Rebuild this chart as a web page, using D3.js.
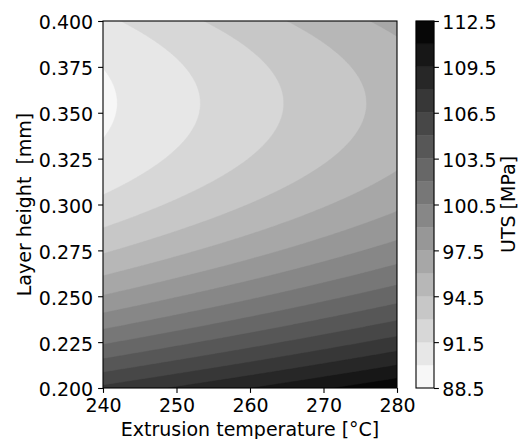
<!DOCTYPE html>
<html>
<head>
<meta charset="utf-8">
<script src="https://cdn.jsdelivr.net/npm/d3@7"></script>
<style>
  body { margin: 0; background: #fff; }
  text { font-family: "DejaVu Sans", sans-serif; fill: #000; }
</style>
</head>
<body>
<svg id="chart" width="518" height="439"></svg>
<script>
// UTS response surface sampled on a temperature x layer-height grid
const temperatures = [240, 250, 260, 270, 280];                 // °C (columns)
const layerHeights = [0.200, 0.225, 0.250, 0.275, 0.300, 0.325, 0.350, 0.375, 0.400]; // mm (rows)
const utsGrid = [                                               // MPa
  [106.82, 108.15, 109.47, 110.80, 112.13],
  [101.76, 103.09, 104.41, 105.74, 107.07],
  [ 97.58,  98.91, 100.23, 101.56, 102.89],
  [ 94.29,  95.62,  96.94,  98.27,  99.60],
  [ 91.89,  93.22,  94.54,  95.87,  97.20],
  [ 90.38,  91.71,  93.03,  94.36,  95.69],
  [ 89.76,  91.09,  92.41,  93.74,  95.07],
  [ 90.02,  91.35,  92.67,  94.00,  95.33],
  [ 91.18,  92.51,  93.83,  95.16,  96.49]
];
const levels = [88.5, 90, 91.5, 93, 94.5, 96, 97.5, 99, 100.5, 102, 103.5, 105, 106.5, 108, 109.5, 111, 112.5];
const xTicks = [240, 250, 260, 270, 280];
const yTicks = [0.200, 0.225, 0.250, 0.275, 0.300, 0.325, 0.350, 0.375, 0.400];
const colorbarTicks = [88.5, 91.5, 94.5, 97.5, 100.5, 103.5, 106.5, 109.5, 112.5];

const FONT = 19;
const TICK = 4.9;
const PAD = 4.9;
const plot = { left: 103, right: 397, top: 21, bottom: 388 };
const cbar = { left: 416, right: 434 };

const svg = d3.select("#chart");

const x = d3.scaleLinear().domain([240, 280]).range([plot.left, plot.right]);
const y = d3.scaleLinear().domain([0.200, 0.400]).range([plot.bottom, plot.top]);

// reversed gray colormap, one shade per filled band
const bandColor = k => {
  const t = ((levels[k] + levels[k + 1]) / 2 - levels[0]) / (levels[levels.length - 1] - levels[0]);
  const idx = Math.min(255, Math.floor(t * 256));
  const v = 255 - idx;
  return d3.rgb(v, v, v).toString();
};

// cubic (Catmull-Rom) resampling of the grid so band edges come out smooth
function cell(r, c) {
  const R = utsGrid.length, C = utsGrid[0].length;
  if (r < 0) return 3 * cell(0, c) - 3 * cell(1, c) + cell(2, c);
  if (r >= R) return 3 * cell(R - 1, c) - 3 * cell(R - 2, c) + cell(R - 3, c);
  if (c < 0) return 3 * cell(r, 0) - 3 * cell(r, 1) + cell(r, 2);
  if (c >= C) return 3 * cell(r, C - 1) - 3 * cell(r, C - 2) + cell(r, C - 3);
  return utsGrid[r][c];
}
function weights(t) {
  const t2 = t * t, t3 = t2 * t;
  return [(-t3 + 2 * t2 - t) / 2, (3 * t3 - 5 * t2 + 2) / 2, (-3 * t3 + 4 * t2 + t) / 2, (t3 - t2) / 2];
}
function sample(u, v) {
  const C = utsGrid[0].length, R = utsGrid.length;
  const c0 = Math.min(Math.floor(u), C - 2), r0 = Math.min(Math.floor(v), R - 2);
  const wu = weights(u - c0), wv = weights(v - r0);
  let s = 0;
  for (let a = 0; a < 4; a++) {
    let row = 0;
    for (let b = 0; b < 4; b++) row += wu[b] * cell(r0 - 1 + a, c0 - 1 + b);
    s += wv[a] * row;
  }
  return s;
}

const nx = 220, ny = 220;
const field = new Float64Array(nx * ny);
for (let j = 0; j < ny; j++) {
  const v = (layerHeights.length - 1) * (1 - j / (ny - 1));
  for (let i = 0; i < nx; i++) {
    const u = (temperatures.length - 1) * i / (nx - 1);
    field[i + j * nx] = sample(u, v);
  }
}

const T0 = temperatures[0], T1 = temperatures[temperatures.length - 1];
const H0 = layerHeights[0], H1 = layerHeights[layerHeights.length - 1];
const gridToScreen = d3.geoTransform({
  point: function (cx, cy) {
    const T = T0 + (cx - 0.5) / (nx - 1) * (T1 - T0);
    const h = H1 - (cy - 0.5) / (ny - 1) * (H1 - H0);
    this.stream.point(x(T), y(h));
  }
});
const path = d3.geoPath(gridToScreen);

svg.append("clipPath").attr("id", "plot-clip")
  .append("rect")
  .attr("x", plot.left).attr("y", plot.top)
  .attr("width", plot.right - plot.left).attr("height", plot.bottom - plot.top);

const bands = d3.contours().size([nx, ny]).thresholds(levels.slice(0, -1))(field);

svg.append("g").attr("clip-path", "url(#plot-clip)")
  .selectAll("path")
  .data(bands)
  .join("path")
  .attr("d", path)
  .attr("fill", (d, k) => bandColor(k))
  .attr("stroke", (d, k) => bandColor(k))
  .attr("stroke-width", 0.4);

// axes
const xAxis = svg.append("g").attr("transform", `translate(0,${plot.bottom})`)
  .call(d3.axisBottom(x).tickValues(xTicks).tickSize(TICK).tickPadding(PAD).tickFormat(d3.format("d")));
xAxis.selectAll("text").attr("font-size", FONT).attr("dy", "0.73em");

const yAxis = svg.append("g").attr("transform", `translate(${plot.left},0)`)
  .call(d3.axisLeft(y).tickValues(yTicks).tickSize(TICK).tickPadding(PAD).tickFormat(d3.format(".3f")));
yAxis.selectAll("text").attr("font-size", FONT).attr("dy", "0.42em");

[xAxis, yAxis].forEach(g => {
  g.select(".domain").remove();
  g.selectAll(".tick line").attr("stroke", "#000").attr("stroke-width", 1.1);
  g.attr("font-family", null);
});

svg.append("rect")
  .attr("x", plot.left).attr("y", plot.top)
  .attr("width", plot.right - plot.left).attr("height", plot.bottom - plot.top)
  .attr("fill", "none").attr("stroke", "#000").attr("stroke-width", 1.1);

svg.append("text")
  .attr("x", (plot.left + plot.right) / 2).attr("y", 435.5)
  .attr("text-anchor", "middle").attr("font-size", FONT)
  .text("Extrusion temperature [°C]");

svg.append("text")
  .attr("transform", `translate(30.5,${(plot.top + plot.bottom) / 2}) rotate(-90)`)
  .attr("text-anchor", "middle").attr("font-size", FONT)
  .style("white-space", "pre")
  .text("Layer height  [mm]");

// colorbar
const c = d3.scaleLinear().domain([levels[0], levels[levels.length - 1]]).range([plot.bottom, plot.top]);
svg.append("g").selectAll("rect")
  .data(d3.range(levels.length - 1))
  .join("rect")
  .attr("x", cbar.left).attr("width", cbar.right - cbar.left)
  .attr("y", k => c(levels[k + 1]))
  .attr("height", k => c(levels[k]) - c(levels[k + 1]))
  .attr("fill", k => bandColor(k))
  .attr("stroke", k => bandColor(k)).attr("stroke-width", 0.3);

svg.append("rect")
  .attr("x", cbar.left).attr("y", plot.top)
  .attr("width", cbar.right - cbar.left).attr("height", plot.bottom - plot.top)
  .attr("fill", "none").attr("stroke", "#000").attr("stroke-width", 1.1);

const cAxis = svg.append("g").attr("transform", `translate(${cbar.right},0)`)
  .call(d3.axisRight(c).tickValues(colorbarTicks).tickSize(TICK).tickPadding(PAD - 1.5).tickFormat(d3.format(".1f")));
cAxis.select(".domain").remove();
cAxis.selectAll(".tick line").attr("stroke", "#000").attr("stroke-width", 1.1);
cAxis.selectAll("text").attr("font-size", FONT).attr("dy", "0.42em");
cAxis.attr("font-family", null);

svg.append("text")
  .attr("transform", `translate(514.5,${(plot.top + plot.bottom) / 2}) rotate(-90)`)
  .attr("text-anchor", "middle").attr("font-size", FONT)
  .text("UTS [MPa]");
</script>
</body>
</html>
